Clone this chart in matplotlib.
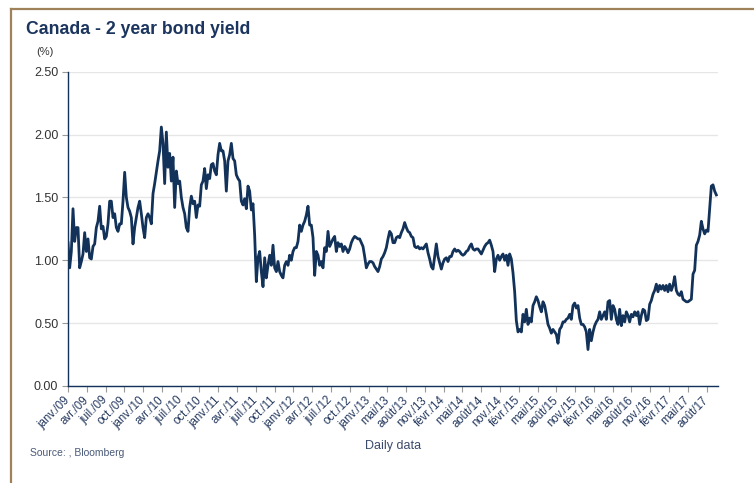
import numpy as np
import matplotlib.pyplot as plt
from matplotlib.lines import Line2D

plt.rcParams['font.family'] = ['Liberation Sans', 'DejaVu Sans']

# Canada 2-year bond yield (%), roughly weekly samples, janv. 2009 -> sept. 2017
yields = [
    # 2009 - mid 2010
    1.14, 0.94, 1.07, 1.41, 1.15, 1.26, 1.26, 0.94, 0.99, 1.05,
    1.22, 1.07, 1.17, 1.02, 1.01, 1.11, 1.13, 1.26, 1.31, 1.43,
    1.25, 1.27, 1.17, 1.19, 1.29, 1.47, 1.47, 1.34, 1.37, 1.26,
    1.23, 1.29, 1.29, 1.47, 1.70, 1.50, 1.42, 1.39, 1.34, 1.13,
    1.26, 1.34, 1.42, 1.47, 1.37, 1.26, 1.18, 1.34, 1.37, 1.34,
    1.29, 1.53, 1.61, 1.70, 1.79, 1.87, 2.06, 1.93, 1.61, 2.02,
    1.74, 1.85, 1.63, 1.82, 1.42, 1.71, 1.61, 1.63, 1.50, 1.42,
    1.37, 1.26, 1.23, 1.42, 1.51, 1.45, 1.47, 1.34,
    # mid 2010 - 2012
    1.44, 1.43, 1.60, 1.63, 1.73, 1.57, 1.68, 1.65, 1.76, 1.77,
    1.71, 1.68, 1.84, 1.93, 1.87, 1.87, 1.79, 1.55, 1.79, 1.84,
    1.93, 1.81, 1.79, 1.68, 1.65, 1.63, 1.47, 1.44, 1.49, 1.41,
    1.59, 1.55, 1.40, 1.45, 1.20, 0.83, 1.02, 1.07, 0.91, 0.79,
    1.02, 0.86, 0.96, 1.04, 0.96, 1.12, 0.94, 0.91, 0.99, 0.91,
    0.88, 0.86, 0.96, 0.99, 0.96, 1.04, 1.00, 1.07, 1.10, 1.10,
    1.15, 1.28, 1.23, 1.28, 1.31, 1.36, 1.43, 1.28, 1.28, 1.18,
    0.88, 1.07, 1.04, 0.96, 0.99, 0.94, 1.10, 1.07,
    # 2013 - 2014
    1.23, 1.11, 1.14, 1.17, 1.19, 1.07, 1.14, 1.11, 1.13, 1.07,
    1.11, 1.09, 1.06, 1.09, 1.14, 1.17, 1.19, 1.18, 1.17, 1.17,
    1.14, 1.11, 1.03, 0.94, 0.97, 0.99, 0.99, 0.98, 0.95, 0.93,
    0.91, 0.95, 1.01, 1.03, 1.06, 1.10, 1.17, 1.23, 1.21, 1.14,
    1.14, 1.18, 1.19, 1.18, 1.22, 1.25, 1.30, 1.26, 1.23, 1.22,
    1.19, 1.18, 1.11, 1.10, 1.11, 1.09, 1.10, 1.09, 1.11, 1.13,
    1.06, 1.01, 0.95, 0.93, 1.03, 1.13, 1.03, 0.98, 0.93, 0.98,
    1.01, 1.02, 0.99, 1.03, 1.03, 1.07, 1.09,
    # late 2014 - early 2016
    1.07, 1.08, 1.07, 1.05, 1.04, 1.05, 1.07, 1.08, 1.11, 1.13,
    1.09, 1.08, 1.09, 1.09, 1.07, 1.05, 1.08, 1.11, 1.13, 1.14,
    1.16, 1.12, 1.07, 0.91, 1.01, 1.04, 1.00, 1.03, 1.05, 1.00,
    1.04, 0.96, 1.05, 1.01, 0.90, 0.75, 0.52, 0.43, 0.45, 0.43,
    0.57, 0.51, 0.61, 0.49, 0.54, 0.51, 0.64, 0.67, 0.71, 0.68,
    0.63, 0.59, 0.67, 0.64, 0.57, 0.49, 0.46, 0.42, 0.45, 0.43,
    0.41, 0.34, 0.45, 0.47, 0.51, 0.51, 0.53, 0.54, 0.57, 0.53,
    0.64, 0.66, 0.62, 0.64, 0.54, 0.49, 0.49,
    # 2016 - 2017
    0.47, 0.43, 0.29, 0.45, 0.36, 0.43, 0.48, 0.51, 0.53, 0.59,
    0.53, 0.56, 0.59, 0.53, 0.67, 0.68, 0.53, 0.64, 0.61, 0.53,
    0.49, 0.61, 0.48, 0.56, 0.51, 0.59, 0.56, 0.51, 0.57, 0.55,
    0.59, 0.56, 0.59, 0.49, 0.56, 0.61, 0.60, 0.52, 0.53, 0.65,
    0.68, 0.73, 0.76, 0.81, 0.75, 0.80, 0.77, 0.80, 0.76, 0.80,
    0.75, 0.81, 0.76, 0.80, 0.87, 0.76, 0.73, 0.72, 0.75, 0.69,
    0.68, 0.67, 0.67, 0.68, 0.69, 0.89, 0.92, 1.12, 1.15, 1.20,
    1.31, 1.25, 1.21, 1.24, 1.23, 1.41, 1.59, 1.60, 1.55, 1.52,
]

tick_labels = ['janv./09', 'avr./09', 'juil./09', 'oct./09',
               'janv./10', 'avr./10', 'juil./10', 'oct./10',
               'janv./11', 'avr./11', 'juil./11', 'oct./11',
               'janv./12', 'avr./12', 'juil./12', 'oct./12',
               'janv./13', 'mai/13', 'août/13', 'nov./13',
               'févr./14', 'mai/14', 'août/14', 'nov./14',
               'févr./15', 'mai/15', 'août/15', 'nov./15',
               'févr./16', 'mai/16', 'août/16', 'nov./16',
               'févr./17', 'mai/17', 'août/17']
samples_per_label = 11.27   # spacing of the category labels, in samples

navy = '#12325a'
W, H = 754, 483

fig = plt.figure(figsize=(W / 100, H / 100), dpi=100)
ax = fig.add_axes([68 / W, 1 - 386 / H, 650 / W, 314.3 / H])

x = np.arange(len(yields))
ax.plot(x, yields, color=navy, lw=2.0, solid_joinstyle='round')

ax.set_xlim(0, len(yields))
ax.set_ylim(0, 2.5)
ax.set_yticks(np.arange(0, 2.51, 0.5))
ax.set_yticklabels(['%.2f' % v for v in np.arange(0, 2.51, 0.5)])
ax.set_xticks(np.arange(len(tick_labels)) * samples_per_label)
ax.set_xticklabels(tick_labels, rotation=45, ha='right', va='center',
                   rotation_mode='anchor')

ax.yaxis.grid(True, color='#e6e6e6', lw=1)
ax.set_axisbelow(True)
for s in ['top', 'right']:
    ax.spines[s].set_visible(False)
for s in ['left', 'bottom']:
    ax.spines[s].set_color(navy)
    ax.spines[s].set_linewidth(1.0)

ax.tick_params(axis='y', length=4, color='#9a9a9a', labelsize=9, pad=3,
               labelcolor='#333333')
ax.tick_params(axis='x', length=4, color='#9a9a9a', labelsize=8.3, pad=5,
               labelcolor='#25395f')

fig.text(26 / W, 1 - 30 / H, 'Canada - 2 year bond yield', fontsize=12.7,
         fontweight='bold', color='#1b355e', va='center')
fig.text(45 / W, 1 - 52 / H, '(%)', fontsize=8, color='#333333',
         ha='center', va='center')
fig.text(393 / W, 1 - 446 / H, 'Daily data', fontsize=9, color='#3b4a6b',
         ha='center', va='center')
fig.text(30 / W, 1 - 453 / H, 'Source: , Bloomberg', fontsize=7.5,
         color='#4a5a78', va='center')

# brown frame, top and left
fig.add_artist(Line2D([11 / W, 1], [1 - 9 / H, 1 - 9 / H],
                      transform=fig.transFigure, color='#a0825a', lw=1.6))
fig.add_artist(Line2D([11 / W, 11 / W], [0, 1 - 9 / H],
                      transform=fig.transFigure, color='#a0825a', lw=1.6))

fig.savefig('out.png', dpi=100)
